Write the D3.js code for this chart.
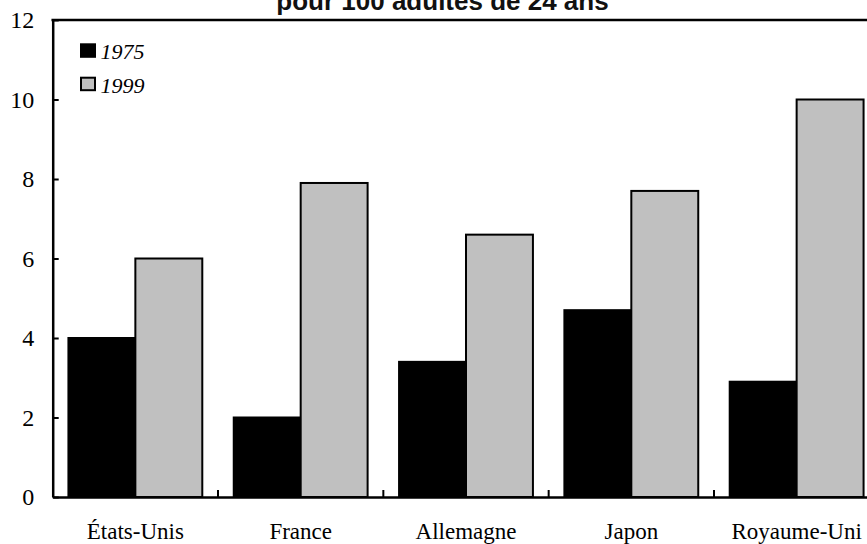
<!DOCTYPE html>
<html>
<head>
<meta charset="utf-8">
<script src="https://cdn.jsdelivr.net/npm/d3@7"></script>
<style>
  html, body { margin: 0; padding: 0; background: #fff; }
  svg { display: block; }
</style>
</head>
<body>
<svg id="chart" width="867" height="544"></svg>
<script>
// Taux pour 100 adultes de 24 ans, 1975 et 1999
const categories = ["États-Unis", "France", "Allemagne", "Japon", "Royaume-Uni"];
const seriesNames = ["1975", "1999"];
const values1975 = [4.0, 2.0, 3.4, 4.7, 2.9];
const values1999 = [6.0, 7.9, 6.6, 7.7, 10.0];
const yTicks = [0, 2, 4, 6, 8, 10, 12];
const titleText = "pour 100 adultes de 24 ans";

const colors = { "1975": "#000000", "1999": "#c0c0c0" };

const svg = d3.select("#chart");
const plotLeft = 52.7, plotRight = 879.3, plotTop = 20, plotBottom = 497;

const x = d3.scaleBand().domain(categories).range([plotLeft, plotRight]).paddingInner(0).paddingOuter(0);
const xs = d3.scaleBand().domain(seriesNames).range([0, x.bandwidth()]).paddingInner(0).paddingOuter(0.235);
const y = d3.scaleLinear().domain([0, 12]).range([plotBottom, plotTop]);

const rows = categories.map((c, i) => ({ cat: c, "1975": values1975[i], "1999": values1999[i] }));

// Title (partly above the top edge)
svg.append("text")
  .attr("x", 442.5).attr("y", 10)
  .attr("text-anchor", "middle")
  .style("font-family", "'Liberation Sans', Arial, sans-serif")
  .style("font-weight", "bold")
  .style("font-size", "26px")
  .attr("fill", "#111")
  .text(titleText);

// Bars
const g = svg.append("g");
rows.forEach(r => {
  seriesNames.forEach(s => {
    g.append("rect")
      .attr("x", x(r.cat) + xs(s))
      .attr("y", y(r[s]))
      .attr("width", xs.bandwidth())
      .attr("height", y(0) - y(r[s]))
      .attr("fill", colors[s])
      .attr("stroke", "#000")
      .attr("stroke-width", 2);
  });
});

// Y axis: ticks pointing into the plot
const yAxis = svg.append("g")
  .attr("transform", `translate(${plotLeft},0)`)
  .call(d3.axisLeft(y).tickValues(yTicks).tickSizeInner(-6).tickSizeOuter(0).tickPadding(18.5));
yAxis.select(".domain").attr("stroke-width", 2.5);
yAxis.selectAll(".tick line").attr("stroke-width", 2);
yAxis.selectAll(".tick text")
  .style("font-family", "'Liberation Serif', 'Times New Roman', serif")
  .style("font-size", "24px")
  .attr("fill", "#000");

// X axis: category separators pointing upward
const xAxis = svg.append("g")
  .attr("transform", `translate(0,${plotBottom})`)
  .call(d3.axisBottom(x).tickSize(0).tickSizeOuter(0).tickPadding(26));
xAxis.select(".domain").attr("stroke-width", 2.5);
xAxis.selectAll(".tick text")
  .style("font-family", "'Liberation Serif', 'Times New Roman', serif")
  .style("font-size", "23px")
  .attr("fill", "#000");
const seps = categories.slice(1).map(c => x(c));
svg.append("g").selectAll("line").data(seps).join("line")
  .attr("x1", d => d).attr("x2", d => d)
  .attr("y1", plotBottom).attr("y2", plotBottom - 7)
  .attr("stroke", "#000").attr("stroke-width", 2);

// Top frame line
svg.append("line")
  .attr("x1", plotLeft - 1.25).attr("x2", plotRight)
  .attr("y1", plotTop).attr("y2", plotTop)
  .attr("stroke", "#000").attr("stroke-width", 2.5);

// Legend
const legend = svg.append("g");
seriesNames.forEach((s, i) => {
  const ly = 44.3 + i * 33.4;
  legend.append("rect")
    .attr("x", 81).attr("y", ly)
    .attr("width", 14).attr("height", 12.5)
    .attr("fill", colors[s])
    .attr("stroke", "#000").attr("stroke-width", 2);
  legend.append("text")
    .attr("x", 100.5).attr("y", ly + 15)
    .style("font-family", "'Liberation Serif', 'Times New Roman', serif")
    .style("font-style", "italic")
    .style("font-size", "22px")
    .attr("fill", "#000")
    .text(s);
});
</script>
</body>
</html>
